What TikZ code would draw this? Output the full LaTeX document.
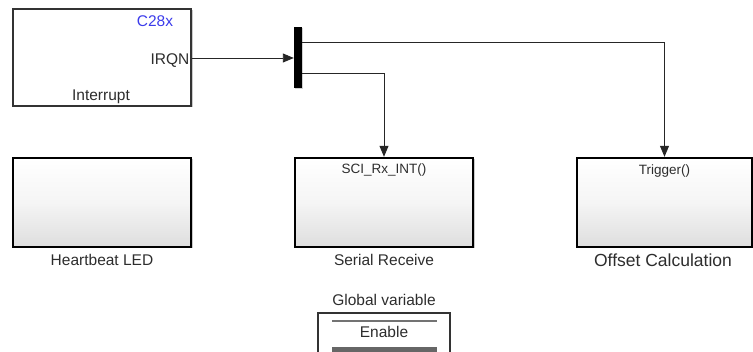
\documentclass[tikz,border=0pt]{standalone}
\usepackage{fontspec}
\setmainfont{Liberation Sans}
\usetikzlibrary{arrows.meta,shadows}
\definecolor{simblue}{RGB}{60,60,235}
\definecolor{txt}{RGB}{45,45,45}
\tikzset{
  lbl/.style={font=\fontsize{15.5}{18}\selectfont, text=txt, inner sep=0pt, anchor=base},
  small/.style={font=\fontsize{13.5}{16}\selectfont, text=txt, inner sep=0pt, anchor=base},
  big/.style={font=\fontsize{17.5}{20}\selectfont, text=txt, inner sep=0pt, anchor=base},
  sub/.style={draw=black, line width=2.4pt, rectangle, inner sep=0pt,
    top color=white, bottom color=black!13, middle color=white!96!black,
    drop shadow={shadow xshift=1.5pt, shadow yshift=-1.5pt, fill=black!35, opacity=0.6}},
  intbox/.style={draw=black!80, line width=1.3pt, rectangle, inner sep=0pt, fill=white,
    drop shadow={shadow xshift=1.5pt, shadow yshift=-1.5pt, fill=black!35, opacity=0.6}},
  arr/.style={draw=black!85, line width=0.9pt, -{Triangle[length=11pt,width=9pt]}},
  wire/.style={draw=black!85, line width=0.9pt}
}
\begin{document}
\begin{tikzpicture}[x=1pt,y=-1pt]
\useasboundingbox (0,0) rectangle (753,352);
% Interrupt block
\node[intbox, minimum width=178pt, minimum height=97pt] (intr) at (102,57.5) {};
\node[lbl, text=simblue] (c28) at (155,27) {C28x};
\node[lbl] (irqn) at (170,65) {IRQN};
\node[lbl] (intlbl) at (101,101) {Interrupt};
% demux bar
\node[rectangle, fill=black, inner sep=0pt, minimum width=8pt, minimum height=61pt,
  drop shadow={shadow xshift=1pt, shadow yshift=-1pt, fill=black!30, opacity=0.6}] (bar) at (298,57.5) {};
\coordinate (o1) at (302,42);
\coordinate (o2) at (302,73);
% subsystems
\node[sub, minimum width=178pt, minimum height=89pt] (hb) at (102,202.5) {};
\node[lbl] (hblbl) at (102,266) {Heartbeat LED};
\node[sub, minimum width=178pt, minimum height=89pt] (sr) at (384,202.5) {};
\node[small] (srport) at (384,174) {SCI\_Rx\_INT()};
\node[lbl] (srlbl) at (384,266) {Serial Receive};
\node[sub, minimum width=175pt, minimum height=89pt] (oc) at (664.5,202.5) {};
\node[small] (ocport) at (664.5,175) {Trigger()};
\node[big] (oclbl) at (663,267) {Offset Calculation};
% connectors
\draw[arr] (intr.east |- 0,58) -- (bar.west |- 0,58);
\draw[arr] (o1) -| (oc.north);
\draw[arr] (o2) -| (sr.north);
% global variable
\node[lbl] (gvlbl) at (384,306) {Global variable};
\node[draw=black!80, line width=1.3pt, rectangle, inner sep=0pt, fill=white,
  minimum width=132pt, minimum height=46pt] (gv) at (384,336) {};
\coordinate (gl1) at (332,321);
\coordinate (gl2) at (437,321);
\draw[black!55, line width=1.2pt] (gl1) -- (gl2);
\node[lbl] (enable) at (384,338) {Enable};
\fill[black!60] (332,347.5) rectangle (437,353);
\end{tikzpicture}
\end{document}
